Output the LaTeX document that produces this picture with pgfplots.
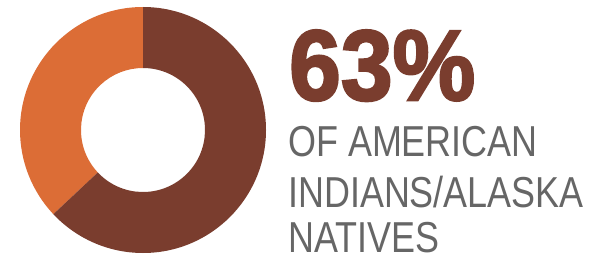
\documentclass[border=0pt]{standalone}
\usepackage{pgfplots}
\pgfplotsset{compat=1.18}
\usepackage{pgfplotstable}
\usepackage{fontspec}
\setmainfont{Liberation Sans}
\newfontfamily\heavyfont[FakeBold=2.5]{Liberation Sans}
\definecolor{brownc}{HTML}{7A3D2E}
\definecolor{orangec}{HTML}{DC6D36}
\definecolor{grayc}{HTML}{666666}
\pgfplotstableread{
label value
Yes 63
No 37
}\donutdata
\begin{document}
\begin{tikzpicture}[x=1pt,y=1pt]
\path[use as bounding box] (0,0) rectangle (591,260);
\pgfplotstablegetelem{0}{value}\of\donutdata \let\valA\pgfplotsretval
\pgfplotstablegetelem{1}{value}\of\donutdata \let\valB\pgfplotsretval
\pgfmathsetmacro{\angB}{90+3.6*\valB}
\pgfmathsetmacro{\angA}{90-3.6*\valA}
\begin{axis}[hide axis, x=1pt, y=1pt, xmin=-123, xmax=123, ymin=-123, ymax=123,
  anchor=center, at={(143,130)}, scale only axis, clip=false]
% orange wedge (37%)
\fill[orangec] (axis cs:{123*cos(90)},{123*sin(90)}) arc[start angle=90, end angle=\angB, radius=123pt]
  -- (axis cs:{62*cos(\angB)},{62*sin(\angB)}) arc[start angle=\angB, end angle=90, radius=62pt] -- cycle;
% brown wedge (63%)
\fill[brownc] (axis cs:{123*cos(90)},{123*sin(90)}) arc[start angle=90, end angle=\angA, radius=123pt]
  -- (axis cs:{62*cos(\angA)},{62*sin(\angA)}) arc[start angle=\angA, end angle=90, radius=62pt] -- cycle;
\end{axis}
\node[anchor=base west, inner sep=0, text=brownc, xscale=0.93] at (289,160) {\heavyfont\bfseries\fontsize{100}{100}\selectfont 63\%};
\node[anchor=base west, inner sep=0, text=grayc, xscale=0.83] at (288,104) {\fontsize{43.3}{43.3}\selectfont OF AMERICAN};
\node[anchor=base west, inner sep=0, text=grayc, xscale=0.83] at (288,53) {\fontsize{43.3}{43.3}\selectfont INDIANS/ALASKA};
\node[anchor=base west, inner sep=0, text=grayc, xscale=0.83] at (288,8) {\fontsize{43.3}{43.3}\selectfont NATIVES};
\end{tikzpicture}
\end{document}
